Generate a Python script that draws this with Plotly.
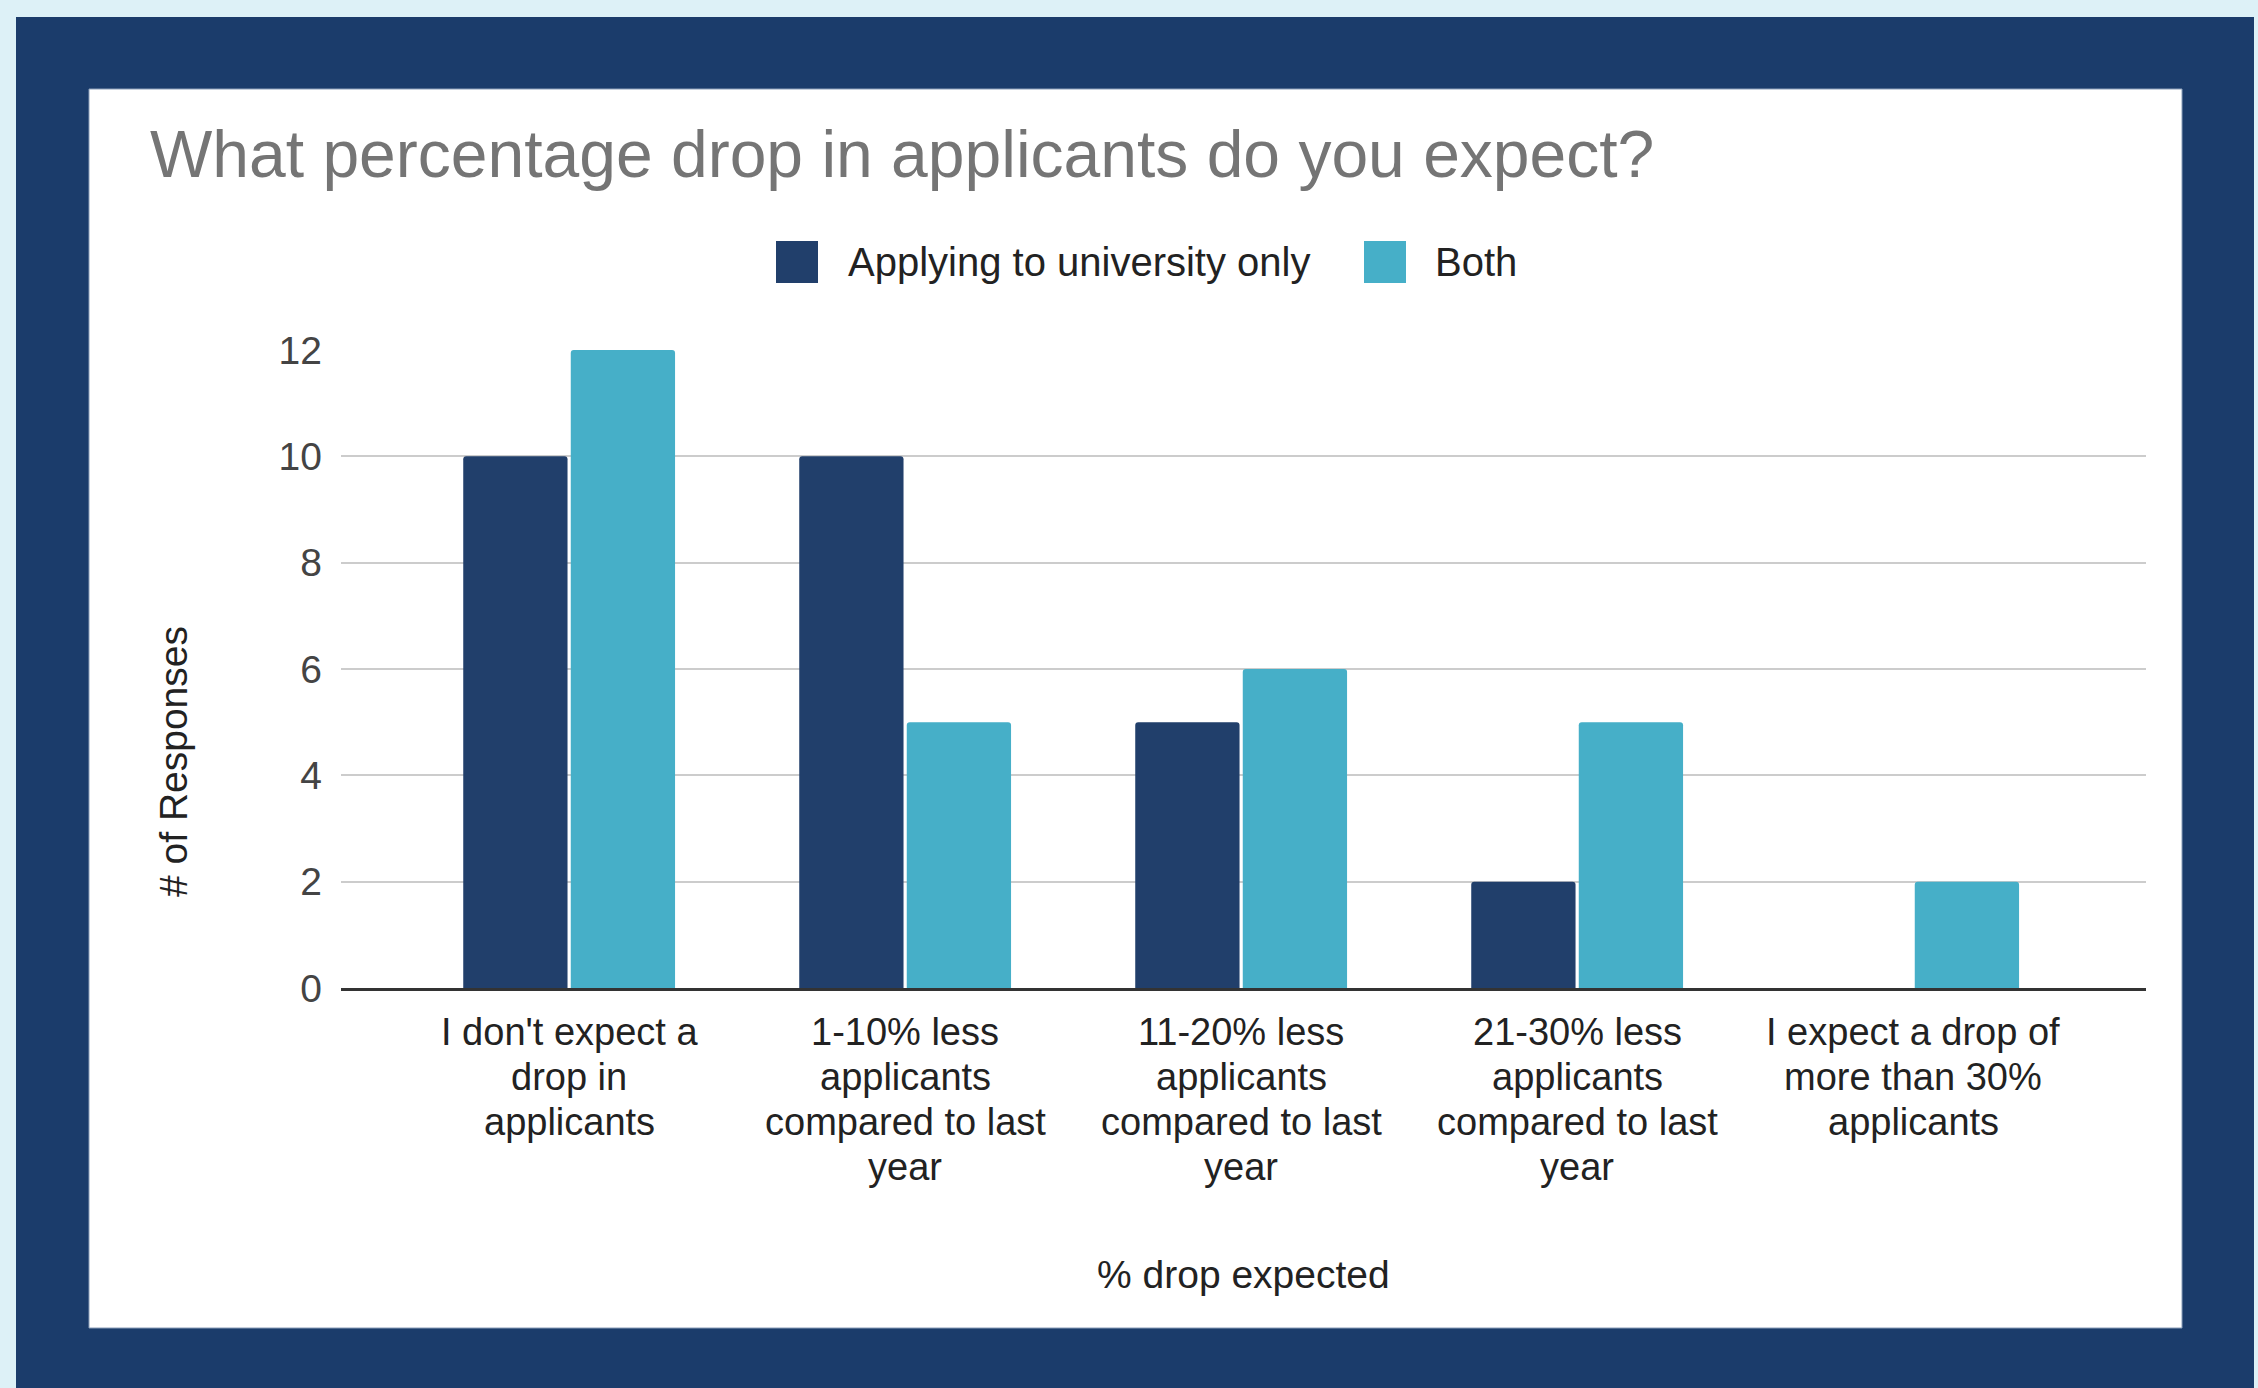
import plotly.graph_objects as go

# ---- data ----
categories = [
    "I don't expect a drop in applicants",
    "1-10% less applicants compared to last year",
    "11-20% less applicants compared to last year",
    "21-30% less applicants compared to last year",
    "I expect a drop of more than 30% applicants",
]
category_lines = [
    ["I don't expect a", "drop in", "applicants"],
    ["1-10% less", "applicants", "compared to last", "year"],
    ["11-20% less", "applicants", "compared to last", "year"],
    ["21-30% less", "applicants", "compared to last", "year"],
    ["I expect a drop of", "more than 30%", "applicants"],
]
series_names = ["Applying to university only", "Both"]
university_only = [10, 10, 5, 2, 0]
both = [12, 5, 6, 5, 2]
y_ticks = [0, 2, 4, 6, 8, 10, 12]

title_text = "What percentage drop in applicants do you expect?"
x_title = "% drop expected"
y_title = "# of Responses"

# ---- styling ----
W, H = 2258, 1388
FONT = "Liberation Sans, Arial, sans-serif"
DARK = "#213F6B"
LIGHT = "#46AFC8"
NAVY = "#1B3C6B"
PAGE = "#DDF1F7"


def px(x):
    return x / W


def py(y):
    return 1 - y / H


fig = go.Figure()
fig.add_trace(go.Bar(x=list(range(len(categories))), y=university_only, name=series_names[0],
                     marker=dict(color=DARK, line=dict(width=0)), showlegend=False))
fig.add_trace(go.Bar(x=list(range(len(categories))), y=both, name=series_names[1],
                     marker=dict(color=LIGHT, line=dict(width=0)), showlegend=False))

shapes = [
    dict(type="rect", xref="paper", yref="paper", x0=px(16), x1=px(2254), y0=py(1388), y1=py(17),
         fillcolor=NAVY, line=dict(width=0), layer="below"),
    dict(type="rect", xref="paper", yref="paper", x0=px(89), x1=px(2182), y0=py(1328), y1=py(89),
         fillcolor="white", line=dict(color="#8A9DB8", width=1), layer="below"),
]

annotations = [
    dict(text=title_text, xref="paper", yref="paper", x=px(148), y=py(154), xanchor="left",
         yanchor="middle", showarrow=False, font=dict(family=FONT, size=66, color="#757575")),
    dict(text=x_title, xref="paper", yref="paper", x=px(1243), y=py(1274), xanchor="center",
         yanchor="middle", showarrow=False, font=dict(family=FONT, size=39, color="#222222")),
    dict(text=y_title, xref="paper", yref="paper", x=px(173), y=py(762), xanchor="center",
         yanchor="middle", textangle=-90, showarrow=False,
         font=dict(family=FONT, size=39, color="#222222")),
]

# legend (manual, to get large swatches)
legend_items = [(series_names[0], DARK, 776, 846), (series_names[1], LIGHT, 1364, 1433)]
for name, col, sx, tx in legend_items:
    shapes.append(dict(type="rect", xref="paper", yref="paper", x0=px(sx), x1=px(sx + 42),
                       y0=py(283), y1=py(241), fillcolor=col, line=dict(width=0)))
    annotations.append(dict(text=name, xref="paper", yref="paper", x=px(tx), y=py(262),
                            xanchor="left", yanchor="middle", showarrow=False,
                            font=dict(family=FONT, size=40, color="#222222")))

# category labels, one annotation per line for tight line spacing
line_y = [1032, 1077, 1122, 1167]
for i, lines in enumerate(category_lines):
    for j, ln in enumerate(lines):
        annotations.append(dict(text=ln, xref="x", yref="paper", x=i, y=py(line_y[j]),
                                xanchor="center", yanchor="middle", showarrow=False,
                                font=dict(family=FONT, size=38, color="#222222")))

fig.update_layout(
    width=W, height=H,
    autosize=False,
    margin=dict(l=0, r=0, t=0, b=0, pad=0, autoexpand=False),
    paper_bgcolor=PAGE,
    plot_bgcolor="rgba(0,0,0,0)",
    barmode="group",
    bargap=0.36,
    bargroupgap=0.03,
    barcornerradius=3,
    showlegend=False,
    shapes=shapes,
    annotations=annotations,
    font=dict(family=FONT),
)
fig.update_xaxes(
    domain=[px(341), px(2146)],
    range=[-0.679, 4.693],
    automargin=False,
    showticklabels=False,
    showgrid=False,
    zeroline=False,
    showline=True, linecolor="#333333", linewidth=3,
    ticks="",
)
fig.update_yaxes(
    domain=[py(988), py(350)],
    range=[0, 12],
    automargin=False,
    tickvals=y_ticks,
    ticktext=[str(v) for v in y_ticks],
    showgrid=True, gridcolor="#CCCCCC", gridwidth=2,
    zeroline=False,
    showline=False,
    ticks="",
    ticklabelstandoff=18,
    tickfont=dict(family=FONT, size=39, color="#444444"),
)

fig.write_html(
    "out.html",
    config={"displayModeBar": False, "responsive": False},
    post_script="document.body.style.margin='0';document.body.style.overflow='hidden';"
                "document.body.style.background='#DDF1F7';",
)
